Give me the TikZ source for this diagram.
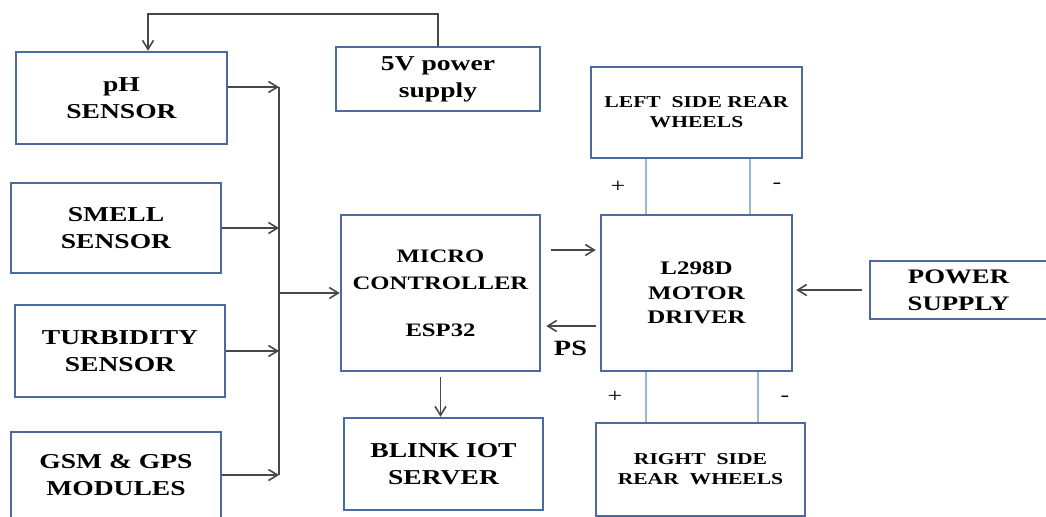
\documentclass[tikz,border=0pt]{standalone}
\usepackage{fontspec}
\setmainfont{Liberation Serif}[FakeStretch=1.3]
\usetikzlibrary{arrows.meta, positioning, calc}
\definecolor{boxblue}{RGB}{74,106,160}
\definecolor{wireblue}{RGB}{150,182,222}
\definecolor{arrowgray}{RGB}{72,72,72}

\begin{document}
\begin{tikzpicture}[x=0.5pt, y=-0.5pt,
    font=\fontsize{10.6}{13.5}\selectfont\bfseries, align=center,
    host/.style={draw=boxblue, line width=1.2pt, inner sep=2pt, align=center},
    arrow/.style={-{Straight Barb[length=4.5pt, width=5.5pt]}, draw=arrowgray, line width=0.8pt},
    bus/.style={draw=arrowgray, line width=0.8pt},
    wire/.style={draw=wireblue, line width=0.8pt},
    sign/.style={font=\fontsize{10}{10}\selectfont}
]
    \useasboundingbox (0,0) rectangle (1046,516);

    \node[host, minimum width=105.5pt, minimum height=46pt] (ph) at (121.5,98) {pH\\SENSOR};
    \node[host, minimum width=102pt, minimum height=32pt] (ps5) at (438,79) {5V power\\supply};
    \node[host, minimum width=105pt, minimum height=45pt] (smell) at (116,228) {SMELL\\SENSOR};
    \node[host, minimum width=105pt, minimum height=46pt] (turb) at (120,351) {TURBIDITY\\SENSOR};
    \node[host, minimum width=105pt, minimum height=43pt] (gsm) at (116,475) {GSM \& GPS\\MODULES};
    \node[host, minimum width=99.5pt, minimum height=78pt, font=\fontsize{9.5}{13.5}\selectfont\bfseries] (mcu) at (440.5,293) {MICRO\\CONTROLLER\\[10pt]ESP32};
    \node[host, minimum width=99.5pt, minimum height=46pt] (blink) at (443.5,464) {BLINK IOT\\SERVER};
    \node[host, minimum width=95.5pt, minimum height=78pt, font=\fontsize{9.6}{12.3}\selectfont\bfseries] (drv) at (696.5,293) {L298D\\MOTOR\\DRIVER};
    \node[host, minimum width=105.5pt, minimum height=45.5pt, font=\fontsize{8.3}{10}\selectfont\bfseries] (lw) at (696.5,112.5) {LEFT\ \ SIDE REAR\\WHEELS};
    \node[host, minimum width=104.5pt, minimum height=46.5pt, font=\fontsize{8.3}{10}\selectfont\bfseries] (rw) at (700.5,469.5) {RIGHT\ \ SIDE\\REAR\ \ WHEELS};
    \node[host, minimum width=88.5pt, minimum height=29pt, font=\fontsize{10.3}{13.5}\selectfont\bfseries] (pwr) at (958.5,290) {POWER\\SUPPLY};

    \coordinate (fb) at (148,14);
    \coordinate (bustop) at (279,87);
    \draw[arrow] (ps5.north) |- (fb) -- (fb |- ph.north);

    \draw[bus] (bustop) -- (gsm -| bustop);
    \draw[arrow] (ph.east |- bustop) -- (bustop);
    \draw[arrow] (smell) -- (smell -| bustop);
    \draw[arrow] (turb) -- (turb -| bustop);
    \draw[arrow] (gsm) -- (gsm -| bustop);
    \draw[arrow] (mcu -| bustop) -- (mcu.west);

    \draw[arrow, shorten <=2.5pt] (mcu.south) -- (mcu.south |- blink.north);
    \draw[arrow, shorten <=5pt, shorten >=2pt] ($(mcu.east)+(0,-43)$) -- ($(drv.west)+(0,-43)$);
    \draw[arrow, shorten <=2pt, shorten >=2.5pt] ($(drv.west)+(0,33)$) -- ($(mcu.east)+(0,33)$)
        node[midway, below=4pt, font=\fontsize{10.9}{12}\selectfont\bfseries] (pslbl) {PS};
    \draw[arrow, shorten <=3.5pt, shorten >=1.5pt] (pwr.west) -- (pwr.west -| drv.east);

    \coordinate (lpos) at ($(drv.north west)+(46,0)$);
    \coordinate (lneg) at ($(drv.north east)+(-43,0)$);
    \coordinate (rpos) at ($(drv.south west)+(46,0)$);
    \coordinate (rneg) at ($(drv.south east)+(-35,0)$);
    \draw[wire] (lpos) -- (lpos |- lw.south);
    \draw[wire] (lneg) -- (lneg |- lw.south);
    \draw[wire] (rpos) -- (rpos |- rw.north);
    \draw[wire] (rneg) -- (rneg |- rw.north);

    \node[sign] (lplus) at (618,187) {+};
    \node[sign] (lminus) at (777,186) {-};
    \node[sign] (rplus) at (615,397) {+};
    \node[sign] (rminus) at (785,399) {-};
\end{tikzpicture}
\end{document}
